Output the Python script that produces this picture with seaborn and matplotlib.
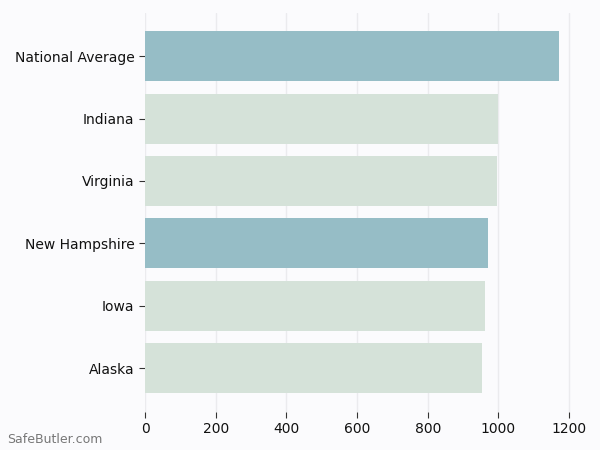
"""horizontal bar chart of average values by state"""

import pandas as pd
import matplotlib
matplotlib.use("Agg")
import matplotlib.pyplot as plt
import seaborn as sns


states = ["National Average", "Indiana", "Virginia", "New Hampshire", "Iowa", "Alaska"]
values = [1172, 1000, 996, 971, 961, 955]
highlight = [True, False, False, True, False, False]


def plot_states(df):
    sns.set_style("white")
    figure = plt.figure(figsize=(6, 4.5), dpi=100, facecolor="#fbfbfd")
    ax = figure.add_axes([0.2417, 0.085, 0.725, 0.887])
    ax.set_facecolor("#fbfbfd")

    colors = ["#96bdc6" if h else "#d5e2d9" for h in df["highlight"]]
    sns.barplot(data=df, x="value", y="state", hue="state", palette=colors,
                legend=False, width=0.8, saturation=1, linewidth=0, ax=ax)

    ax.set_xlim(0, 1231)
    ax.set_ylim(5.7, -0.7)
    ax.set_xticks([0, 200, 400, 600, 800, 1000, 1200])
    ax.grid(axis="x", color="#ebebee", linewidth=1)
    ax.set_axisbelow(True)
    for s in ax.spines.values():
        s.set_visible(False)
    ax.tick_params(axis="both", length=4, color="#333333", labelsize=10,
                   labelcolor="#111111", left=True, bottom=True)
    ax.set_xlabel("")
    ax.set_ylabel("")

    figure.text(0.012, 0.015, "SafeButler.com", fontsize=9, color="#777777")
    return figure


df = pd.DataFrame({"state": states, "value": values, "highlight": highlight})
fig = plot_states(df)
fig.savefig("out.png", dpi=100, facecolor=fig.get_facecolor())
